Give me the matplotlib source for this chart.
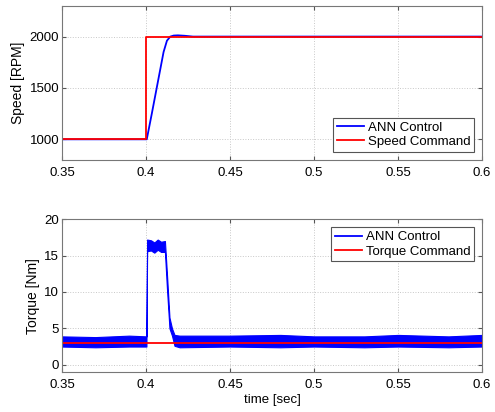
import matplotlib
matplotlib.use("Agg")
import matplotlib.pyplot as plt

plt.rcParams["font.family"] = ["Liberation Sans", "DejaVu Sans"]
plt.rcParams["font.size"] = 9

# speed response
t_cmd = [0.35, 0.4, 0.4, 0.6]
speed_cmd = [1000, 1000, 2000, 2000]
t_ann = [0.35, 0.4005, 0.4035, 0.407, 0.4105, 0.4125, 0.4145, 0.4165, 0.419, 0.423, 0.428, 0.6]
speed_ann = [1000, 1000, 1250, 1550, 1850, 1960, 2000, 2010, 2012, 2008, 2000, 2000]

# torque: command and the noisy ANN trace as a min/max envelope
t_tq_cmd = [0.35, 0.6]
torque_cmd = [3.0, 3.0]
t_env = [0.35, 0.37, 0.39, 0.4003, 0.4007, 0.403, 0.405, 0.407, 0.409, 0.4113,
         0.4125, 0.414, 0.4155, 0.417, 0.42, 0.45, 0.48, 0.5, 0.53, 0.55, 0.58, 0.6]
torque_lo = [2.5, 2.4, 2.5, 2.5, 15.6, 15.7, 15.4, 15.8, 15.5, 15.5,
             10.5, 5.0, 4.0, 2.6, 2.4, 2.5, 2.4, 2.5, 2.4, 2.5, 2.4, 2.5]
torque_hi = [3.9, 3.8, 4.0, 3.9, 17.2, 17.1, 16.8, 17.2, 16.9, 17.0,
             12.5, 6.5, 5.0, 4.1, 4.0, 4.0, 4.1, 3.9, 3.9, 4.1, 3.9, 4.1]

xticks = [0.35, 0.4, 0.45, 0.5, 0.55, 0.6]
xlabels = ["0.35", "0.4", "0.45", "0.5", "0.55", "0.6"]

blue = "#0000ff"
red = "#ff0000"

fig = plt.figure(figsize=(4.95, 4.12), dpi=100)
ax1 = fig.add_axes([0.125, 0.612, 0.849, 0.374])
ax2 = fig.add_axes([0.125, 0.097, 0.849, 0.371])


def style(ax):
    ax.set_xlim(0.35, 0.6)
    ax.set_xticks(xticks)
    ax.set_xticklabels(xlabels)
    ax.grid(True, linestyle=":", color="#c8c8c8", linewidth=0.7)
    ax.set_axisbelow(True)
    ax.tick_params(direction="in", top=True, right=True, length=3,
                   color="#555555", labelsize=9.5)
    ax.tick_params(axis="x", pad=5)
    ax.tick_params(axis="y", pad=2)
    for s in ax.spines.values():
        s.set_color("#777777")
        s.set_linewidth(0.8)


def legend(ax, loc):
    leg = ax.legend(loc=loc, fancybox=False, framealpha=1,
                    edgecolor="#555555", fontsize=9.5, handlelength=2.0,
                    handletextpad=0.3, borderaxespad=0.6,
                    labelspacing=0.15, borderpad=0.3)
    leg.get_frame().set_linewidth(0.8)


ax1.plot(t_ann, speed_ann, color=blue, lw=1.3, label="ANN Control")
ax1.plot(t_cmd, speed_cmd, color=red, lw=1.3, label="Speed Command")
style(ax1)
ax1.set_ylim(800, 2300)
ax1.set_yticks([1000, 1500, 2000])
ax1.set_ylabel("Speed [RPM]", fontsize=10, labelpad=3)
legend(ax1, "lower right")

ax2.fill_between(t_env, torque_lo, torque_hi, color=blue, lw=0.8,
                 edgecolor=blue)
ax2.plot([], [], color=blue, lw=1.3, label="ANN Control")
ax2.plot(t_tq_cmd, torque_cmd, color=red, lw=1.3, label="Torque Command")
style(ax2)
ax2.set_ylim(-1, 20)
ax2.set_yticks([0, 5, 10, 15, 20])
ax2.set_ylabel("Torque [Nm]", fontsize=10, labelpad=3)
ax2.set_xlabel("time [sec]", fontsize=9.5, labelpad=2)
legend(ax2, "upper right")

fig.savefig("out.png", dpi=100)
